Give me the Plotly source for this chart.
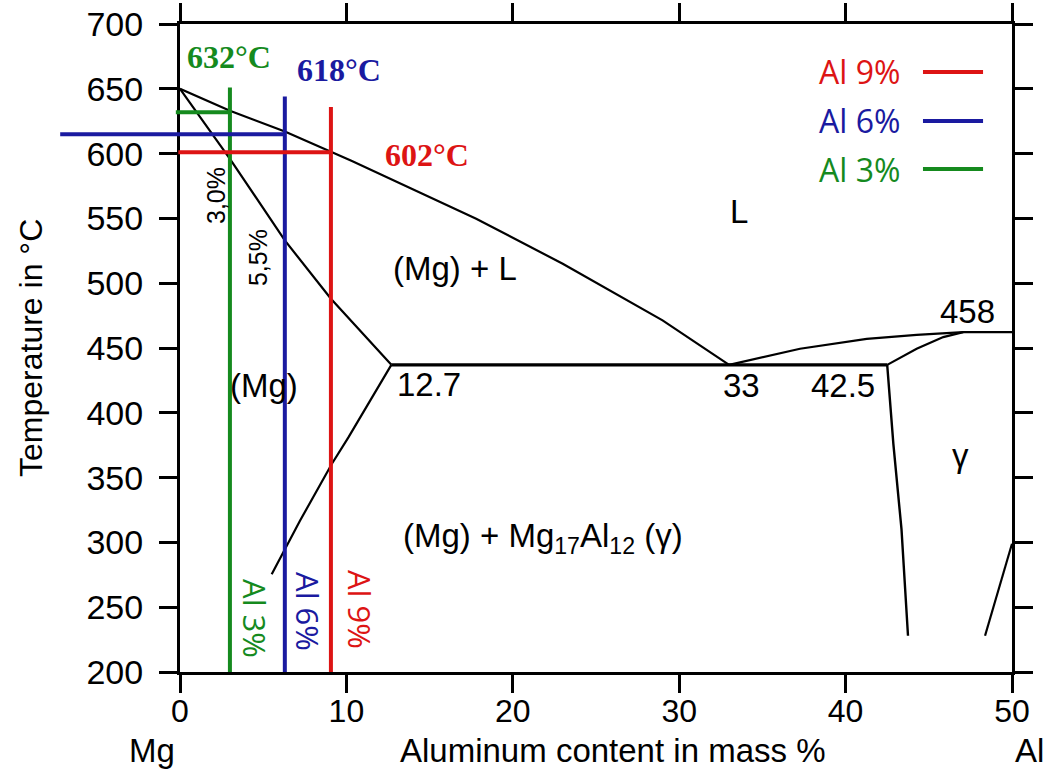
import plotly.graph_objects as go

# ---------------- data ----------------
# liquidus (Mg side)
liq_x = [0, 3, 6.3, 9.07, 10.3, 17.8, 23.0, 29.0, 33.0]
liq_T = [650, 633, 617, 601.5, 594.4, 549.8, 515, 471.3, 437]
# solidus (Mg side)
sol_x = [0, 3, 6.3, 9.07, 12.7]
sol_T = [650, 596, 533, 488, 437]
# solvus of (Mg)
svs_x = [12.7, 10.12, 9.12, 7.21, 5.51]
svs_T = [437, 381, 360.5, 316.7, 275.5]
# eutectic horizontal
eut_x = [12.7, 42.5]
eut_T = [437, 437]
# liquidus (Al side) and 458 line
liqr_x = [33.0, 37.26, 41.27, 44.27, 47.07, 50]
liqr_T = [437, 449.4, 457.1, 460.2, 462.2, 462.2]
# gamma upper boundary
gup_x = [42.5, 44.27, 45.87, 47.07]
gup_T = [437, 449.4, 458.4, 462.2]
# gamma left boundary
gl_x = [42.5, 42.87, 43.36, 43.75]
gl_T = [437, 376, 310, 228]
# gamma right boundary
gr_x = [48.38, 50]
gr_T = [228, 299]

# alloy composition lines
alloy_names = ["Al 3%", "Al 6%", "Al 9%"]
alloy_x = [3.0, 6.3, 9.07]
alloy_top = [651, 644, 636]
alloy_liq = [632, 615, 601]
alloy_hstart = [-0.25, -7.2, -0.1]
alloy_colors = ["#158a1e", "#1a1aa0", "#dd1414"]
temp_labels = ["632°C", "618°C", "602°C"]

x_ticks = [0, 10, 20, 30, 40, 50]
y_ticks = [200, 250, 300, 350, 400, 450, 500, 550, 600, 650, 700]

# ---------------- figure ----------------
fig = go.Figure()

for xs, ts, w in [(liq_x, liq_T, 2.2), (sol_x, sol_T, 2.2), (svs_x, svs_T, 2.2),
                  (eut_x, eut_T, 3.2), (liqr_x, liqr_T, 2.2), (gup_x, gup_T, 2.2),
                  (gl_x, gl_T, 2.4), (gr_x, gr_T, 2.2)]:
    fig.add_trace(go.Scatter(x=xs, y=ts, mode="lines",
                             line=dict(color="black", width=w), showlegend=False,
                             hoverinfo="skip"))

# vertical alloy lines
for xv, top, c in zip(alloy_x, alloy_top, alloy_colors):
    fig.add_trace(go.Scatter(x=[xv, xv], y=[200, top], mode="lines",
                             line=dict(color=c, width=4), showlegend=False))
# horizontal liquidus-temperature lines (on a wider hidden x axis so they can extend left)
for xs0, xv, tl, c in zip(alloy_hstart, alloy_x, alloy_liq, alloy_colors):
    fig.add_trace(go.Scatter(x=[xs0, xv], y=[tl, tl], mode="lines", xaxis="x2", yaxis="y",
                             line=dict(color=c, width=4), showlegend=False))

ann = []
sans = "Liberation Sans, Arial, sans-serif"
def txt(x, y, t, size=33, color="black", xanchor="center", angle=0, font=sans, xref="x", yref="y"):
    ann.append(dict(x=x, y=y, xref=xref, yref=yref, text=t, showarrow=False,
                    xanchor=xanchor, yanchor="middle", textangle=angle,
                    font=dict(family=font, size=size, color=color)))

txt(16.53, 511.7, "(Mg) + L")
txt(33.6, 555, "L")
txt(5.05, 420.7, "(Mg)")
txt(12.9, 421.5, "12.7", xanchor="left")
txt(33.77, 420.7, "33")
txt(39.84, 420.7, "42.5")
txt(47.3, 478.5, "458")
txt(46.93, 367.4, "γ")
txt(21.8, 303.4, "(Mg) + Mg<sub>17</sub>Al<sub>12</sub> (γ)")
txt(2.16, 568, "3,0%", size=25, angle=-90)
txt(4.69, 519.4, "5,5%", size=25, angle=-90)

# rotated alloy labels
for xc, yc, name, c in zip([4.5, 7.69, 10.82], [240.9, 246.3, 248.6], alloy_names, alloy_colors):
    txt(xc, yc, name, size=31, color=c, angle=90, font="Open Sans, sans-serif")

# temperature labels
serif = "Liberation Serif, Times New Roman, serif"
for xl, yl, t, c in zip([0.3, 6.91, 12.2], [674.5, 664.5, 598.8], temp_labels, alloy_colors):
    txt(xl, yl, "<b>" + t + "</b>", size=32, color=c, xanchor="left", font=serif)

# key (text then short line)
key_T = [663, 625.2, 588.1]
for name, c, kt in zip(alloy_names[::-1], alloy_colors[::-1], key_T):
    txt(43.4, kt, name, size=32, color=c, xanchor="right", font="Open Sans, sans-serif")

# axis titles
txt(-0.00926, 0.5, "Temperature in °C", size=32, angle=-90, xref="paper", yref="paper")
txt(0.1152, -0.1204, "Mg", size=33, xref="paper", yref="paper")
txt(0.5895, -0.1204, "Aluminum content in mass %", size=33, xref="paper", yref="paper")
txt(1.0185, -0.1204, "Al", size=33, xref="paper", yref="paper")

shapes = []
for c, kt in zip(alloy_colors[::-1], key_T):
    shapes.append(dict(type="line", xref="x", yref="y", x0=44.65, x1=48.26, y0=kt, y1=kt,
                       line=dict(color=c, width=4)))

W, H = 1051, 774
ml, mr, mt, mb = 40, 39, 24, 102
pw = W - ml - mr
d0 = (180 - ml) / pw
xmin2 = -7.5
d0b = d0 - (-xmin2) * (1 - d0) / 50

axis_common = dict(showline=True, linewidth=3, linecolor="black", mirror="ticks",
                   ticks="outside", ticklen=18, tickwidth=3, tickcolor="black",
                   showgrid=False, zeroline=False)

fig.update_layout(
    width=W, height=H,
    margin=dict(l=ml, r=mr, t=mt, b=mb, autoexpand=False),
    paper_bgcolor="white", plot_bgcolor="rgba(0,0,0,0)",
    xaxis=dict(range=[0, 50], domain=[d0, 1], tickvals=x_ticks, anchor="y",
               ticklabelstandoff=-9,
               tickfont=dict(family=sans, size=32, color="black"), **axis_common),
    yaxis=dict(range=[200, 700], domain=[0, 1], tickvals=y_ticks, anchor="x",
               ticklabelstandoff=9,
               tickfont=dict(family=sans, size=34, color="black"), **axis_common),
    xaxis2=dict(range=[xmin2, 50], domain=[d0b, 1], anchor="y", visible=False),
    annotations=ann,
    shapes=shapes,
    showlegend=False,
)

fig.write_html("out.html", config={"displayModeBar": False},
               post_script="document.body.style.margin='0';document.body.style.padding='0';")
